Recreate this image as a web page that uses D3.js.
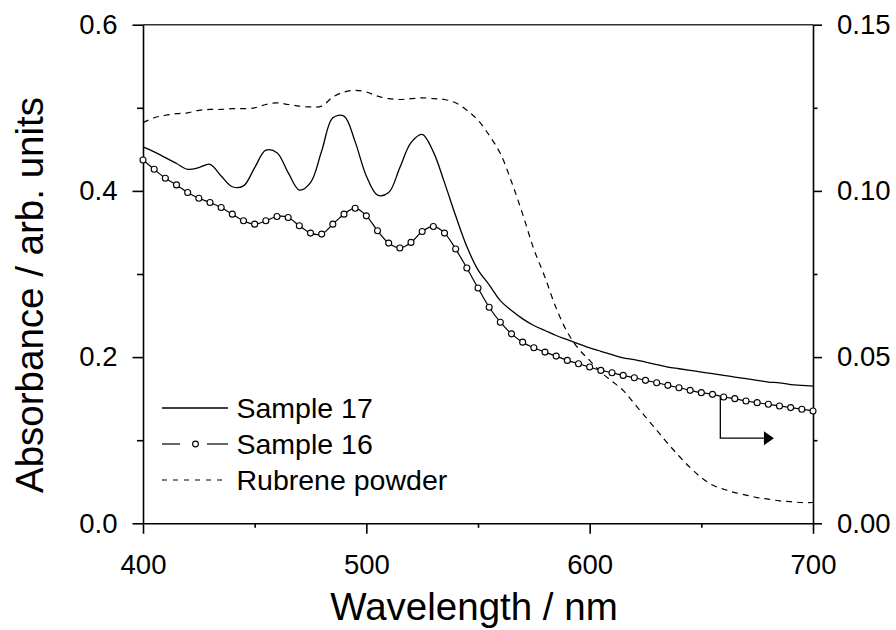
<!DOCTYPE html>
<html>
<head>
<meta charset="utf-8">
<script src="https://cdn.jsdelivr.net/npm/d3@7"></script>
<style>
  html, body { margin: 0; padding: 0; background: #fff; }
  svg { display: block; }
  text { font-family: "Liberation Sans", Arial, sans-serif; fill: #000; }
</style>
</head>
<body>
<svg id="chart" width="896" height="630"></svg>
<script>
// ---- data ----
const wavelengths = d3.range(400, 701, 5); // 400..700 nm, 5 nm steps

// Sample 17 (left axis)
const sample17 = [0.453,0.447,0.440,0.433,0.426,0.428,0.432,0.418,0.405,0.406,
                  0.428,0.449,0.446,0.422,0.401,0.410,0.448,0.488,0.490,0.459,
                  0.418,0.395,0.398,0.428,0.458,0.468,0.447,0.410,0.370,0.333,
                  0.305,0.287,0.268,0.256,0.246,0.238,0.232,0.226,0.221,0.216,
                  0.211,0.207,0.203,0.199,0.197,0.194,0.191,0.188,0.186,0.184,
                  0.182,0.180,0.178,0.176,0.174,0.172,0.170,0.169,0.167,0.166,0.165];

// Sample 16 (right axis)
const sample16 = [0.1093,0.1065,0.1038,0.1018,0.0995,0.0978,0.0965,0.0950,0.0930,0.0910,
                  0.0900,0.0910,0.0923,0.0920,0.0895,0.0873,0.0870,0.0900,0.0930,0.0948,
                  0.0925,0.0880,0.0843,0.0828,0.0845,0.0878,0.0893,0.0873,0.0825,0.0768,
                  0.0708,0.0650,0.0605,0.0570,0.0545,0.0528,0.0515,0.0503,0.0490,0.0480,
                  0.0470,0.0460,0.0453,0.0445,0.0438,0.0430,0.0423,0.0415,0.0408,0.0400,
                  0.0393,0.0388,0.0380,0.0375,0.0368,0.0363,0.0358,0.0353,0.0348,0.0343,0.0338];

// Rubrene powder (left axis)
const rubrene = [0.482,0.488,0.491,0.493,0.494,0.497,0.498,0.498,0.499,0.499,
                 0.500,0.504,0.506,0.504,0.502,0.501,0.502,0.513,0.519,0.521,
                 0.519,0.514,0.511,0.510,0.511,0.512,0.511,0.510,0.506,0.497,
                 0.485,0.467,0.445,0.411,0.372,0.330,0.296,0.259,0.230,0.210,
                 0.196,0.182,0.171,0.160,0.144,0.128,0.112,0.096,0.081,0.067,
                 0.055,0.046,0.041,0.037,0.034,0.031,0.029,0.027,0.026,0.025,0.025];

const xMajor = [400, 500, 600, 700];
const xMinor = [450, 550, 650];
const yLeftMajor = [0, 0.2, 0.4, 0.6];
const yLeftMinor = [0.1, 0.3, 0.5];
const yRightMajor = [0, 0.05, 0.10, 0.15];
const yRightMinor = [0.025, 0.075, 0.125];

const legendLabels = ["Sample 17", "Sample 16", "Rubrene powder"];
const xTitle = "Wavelength / nm";
const yTitle = "Absorbance / arb. units";

// arrow annotation: from Sample 16 curve down, then right towards the right axis
const arrowStartX = 658.5, arrowEndX = 682.5, arrowY = 0.0256;

// ---- layout ----
const L = 143, R = 813, T = 24.7, B = 523.3;
const svg = d3.select("#chart");

const x = d3.scaleLinear().domain([400, 700]).range([L, R]);
const yL = d3.scaleLinear().domain([0, 0.6]).range([B, T]);
const yR = d3.scaleLinear().domain([0, 0.15]).range([B, T]);

const tickFont = 27.5;
const legendFont = 28.5;
const titleFont = 38.5;
const axisStroke = 1.6;

function styleAxis(g) {
  g.selectAll("path.domain").attr("stroke", "#000").attr("stroke-width", axisStroke);
  g.selectAll(".tick line").attr("stroke", "#000").attr("stroke-width", axisStroke);
  g.selectAll(".tick text").attr("font-size", tickFont)
    .attr("font-family", '"Liberation Sans", Arial, sans-serif').attr("fill", "#000");
}

// top border
svg.append("line").attr("x1", L).attr("x2", R).attr("y1", T).attr("y2", T)
  .attr("stroke", "#333").attr("stroke-width", axisStroke);

// bottom axis
svg.append("g").attr("transform", `translate(0,${B})`)
  .call(d3.axisBottom(x).tickValues(xMinor).tickSize(4.5).tickFormat("").tickSizeOuter(0))
  .call(g => g.select(".domain").remove()).call(styleAxis);
svg.append("g").attr("transform", `translate(0,${B})`)
  .call(d3.axisBottom(x).tickValues(xMajor).tickSize(10.5).tickPadding(21).tickSizeOuter(0).tickFormat(d3.format("d")))
  .call(styleAxis);

// left axis
svg.append("g").attr("transform", `translate(${L},0)`)
  .call(d3.axisLeft(yL).tickValues(yLeftMinor).tickSize(6).tickFormat("").tickSizeOuter(0))
  .call(g => g.select(".domain").remove()).call(styleAxis);
svg.append("g").attr("transform", `translate(${L},0)`)
  .call(d3.axisLeft(yL).tickValues(yLeftMajor).tickSize(10.5).tickPadding(15).tickSizeOuter(0).tickFormat(d3.format(".1f")))
  .call(styleAxis);

// right axis
svg.append("g").attr("transform", `translate(${R},0)`)
  .call(d3.axisRight(yR).tickValues(yRightMinor).tickSize(4.5).tickFormat("").tickSizeOuter(0))
  .call(g => g.select(".domain").remove()).call(styleAxis);
svg.append("g").attr("transform", `translate(${R},0)`)
  .call(d3.axisRight(yR).tickValues(yRightMajor).tickSize(9).tickPadding(15).tickSizeOuter(0).tickFormat(d3.format(".2f")))
  .call(styleAxis);

// titles
svg.append("text").attr("x", 474).attr("y", 620).attr("text-anchor", "middle")
  .attr("font-size", titleFont).text(xTitle);
svg.append("text").attr("transform", "translate(43,295) rotate(-90)").attr("text-anchor", "middle")
  .attr("font-size", titleFont).text(yTitle);

// ---- series ----
const lineL = d3.line().x((d, i) => x(wavelengths[i])).y(d => yL(d)).curve(d3.curveCatmullRom);
const lineR = d3.line().x((d, i) => x(wavelengths[i])).y(d => yR(d)).curve(d3.curveCatmullRom);

const plot = svg.append("g");

plot.append("path").datum(rubrene).attr("d", lineL)
  .attr("fill", "none").attr("stroke", "#000").attr("stroke-width", 1.2)
  .attr("stroke-dasharray", "6,5");

plot.append("path").datum(sample17).attr("d", lineL)
  .attr("fill", "none").attr("stroke", "#000").attr("stroke-width", 1.3);

plot.append("path").datum(sample16).attr("d", lineR)
  .attr("fill", "none").attr("stroke", "#000").attr("stroke-width", 1.2);

plot.selectAll("circle.s16").data(sample16).join("circle").attr("class", "s16")
  .attr("cx", (d, i) => x(wavelengths[i])).attr("cy", d => yR(d)).attr("r", 3)
  .attr("fill", "#fff").attr("stroke", "#000").attr("stroke-width", 1.1);

// arrow
const idx = (arrowStartX - 400) / 5;
const i0 = Math.floor(idx), f = idx - i0;
const yStart = sample16[i0] * (1 - f) + sample16[i0 + 1] * f;
svg.append("path")
  .attr("d", `M${x(arrowStartX)},${yR(yStart)} L${x(arrowStartX)},${yR(arrowY)} L${x(arrowEndX) - 10},${yR(arrowY)}`)
  .attr("fill", "none").attr("stroke", "#000").attr("stroke-width", 1.3);
svg.append("path")
  .attr("d", `M${x(arrowEndX) - 10},${yR(arrowY) - 7} L${x(arrowEndX)},${yR(arrowY)} L${x(arrowEndX) - 10},${yR(arrowY) + 7} Z`)
  .attr("fill", "#000");

// ---- legend ----
const lg = svg.append("g");
const rowY = [408, 444, 480];
legendLabels.forEach((lab, i) => {
  const y0 = rowY[i];
  if (i === 0) {
    lg.append("line").attr("x1", 162).attr("x2", 228).attr("y1", y0).attr("y2", y0)
      .attr("stroke", "#000").attr("stroke-width", 1.3);
  } else if (i === 1) {
    lg.append("line").attr("x1", 162).attr("x2", 180).attr("y1", y0).attr("y2", y0)
      .attr("stroke", "#000").attr("stroke-width", 1.2);
    lg.append("line").attr("x1", 207).attr("x2", 228).attr("y1", y0).attr("y2", y0)
      .attr("stroke", "#000").attr("stroke-width", 1.2);
    lg.append("circle").attr("cx", 195.5).attr("cy", y0).attr("r", 2.9)
      .attr("fill", "#fff").attr("stroke", "#000").attr("stroke-width", 1.1);
  } else {
    lg.append("line").attr("x1", 162).attr("x2", 228).attr("y1", y0).attr("y2", y0)
      .attr("stroke", "#000").attr("stroke-width", 1.2).attr("stroke-dasharray", "5,6");
  }
  lg.append("text").attr("x", 236.5).attr("y", y0 + 10).attr("font-size", legendFont).text(lab);
});
</script>
</body>
</html>
